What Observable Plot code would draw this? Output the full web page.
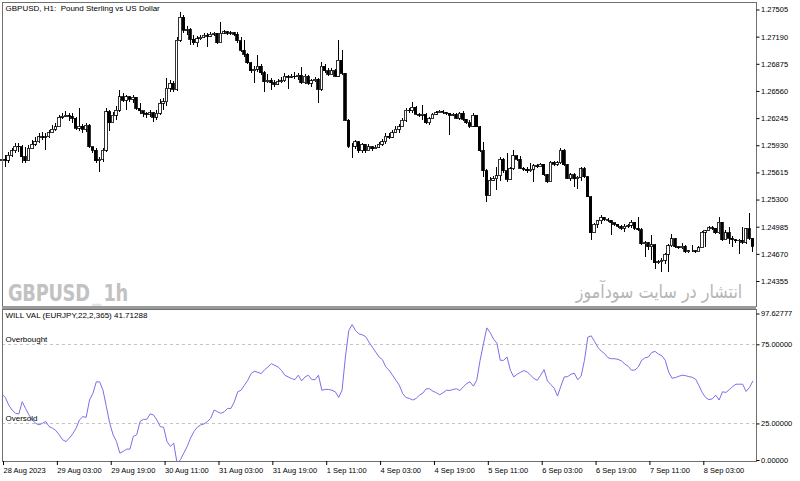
<!DOCTYPE html>
<html><head><meta charset="utf-8">
<script src="https://cdn.jsdelivr.net/npm/d3@7"></script>
<script src="https://cdn.jsdelivr.net/npm/@observablehq/plot@0.6"></script>
<style>
body{margin:0;background:#fff}
#wrap{position:relative;width:800px;height:481px;overflow:hidden;background:#fff}
#wrap svg{position:absolute;left:0;display:block}
.wm{position:absolute;white-space:nowrap;line-height:1}
</style></head><body>
<div id="wrap"></div>
<script>
// ---- data (hourly GBPUSD candles; open = previous close) ----
const firstOpen = 1.25750;
const closes = [
1.25765,1.25757,1.25815,1.25866,1.25920,1.25912,1.25796,1.25750,1.25893,1.25943,
1.25970,1.26028,1.26021,1.26028,1.26075,1.26113,1.26144,1.26253,1.26268,1.26280,
1.26268,1.26241,1.26125,1.26152,1.26113,1.26164,1.25912,1.25874,1.25750,1.25765,
1.25874,1.26319,1.26191,1.26280,1.26338,1.26493,1.26454,1.26493,1.26462,1.26485,
1.26357,1.26330,1.26299,1.26291,1.26307,1.26253,1.26299,1.26415,1.26435,1.26589,
1.26648,1.26578,1.27151,1.27414,1.27267,1.27274,1.27158,1.27120,1.27166,1.27182,
1.27209,1.27197,1.27220,1.27228,1.27120,1.27228,1.27247,1.27228,1.27236,1.27220,
1.27143,1.27035,1.26988,1.26887,1.26795,1.26810,1.26849,1.26771,1.26667,1.26686,
1.26655,1.26640,1.26667,1.26678,1.26733,1.26717,1.26733,1.26725,1.26740,1.26655,
1.26733,1.26648,1.26678,1.26694,1.26578,1.26849,1.26795,1.26756,1.26795,1.26733,
1.26919,1.26764,1.26222,1.25920,1.25920,1.25970,1.25866,1.25943,1.25866,1.25912,
1.25889,1.25904,1.25943,1.25970,1.26036,1.26021,1.26075,1.26113,1.26144,1.26222,
1.26338,1.26330,1.26369,1.26287,1.26276,1.26291,1.26191,1.26237,1.26291,1.26307,
1.26322,1.26314,1.26299,1.26280,1.26291,1.26245,1.26299,1.26229,1.26191,1.26152,
1.26276,1.26144,1.25866,1.25633,1.25351,1.25525,1.25544,1.25579,1.25765,1.25633,
1.25533,1.25657,1.25811,1.25765,1.25664,1.25649,1.25633,1.25649,1.25695,1.25680,
1.25711,1.25587,1.25509,1.25734,1.25711,1.25726,1.25873,1.25703,1.25548,1.25587,
1.25540,1.25556,1.25657,1.25564,1.25331,1.24914,1.25014,1.25053,1.25092,1.25068,
1.25061,1.25030,1.25014,1.24991,1.24968,1.24991,1.24999,1.25037,1.24968,1.24952,
1.24790,1.24797,1.24751,1.24774,1.24565,1.24581,1.24596,1.24666,1.24766,1.24844,
1.24751,1.24743,1.24759,1.24697,1.24705,1.24705,1.24697,1.24743,1.24921,1.24937,
1.24975,1.24968,1.24914,1.25037,1.24836,1.24914,1.24852,1.24836,1.24821,1.24828,
1.24805,1.24960,1.24852,1.24759];
const highs = [
1.25796,1.25815,1.25854,1.25893,1.25959,1.25951,1.25932,1.25912,1.25932,1.25990,
1.26021,1.26067,1.26086,1.26067,1.26106,1.26164,1.26183,1.26280,1.26307,1.26330,
1.26307,1.26299,1.26260,1.26357,1.26175,1.26191,1.26175,1.25912,1.25893,1.25796,
1.25893,1.26357,1.26338,1.26319,1.26384,1.26570,1.26531,1.26512,1.26500,1.26512,
1.26493,1.26415,1.26330,1.26319,1.26338,1.26319,1.26338,1.26462,1.26473,1.26706,
1.26686,1.26678,1.27189,1.27480,1.27441,1.27313,1.27286,1.27209,1.27197,1.27209,
1.27236,1.27228,1.27243,1.27247,1.27236,1.27363,1.27267,1.27255,1.27259,1.27247,
1.27247,1.27189,1.27151,1.26996,1.26899,1.26849,1.26976,1.26872,1.26795,1.26756,
1.26706,1.26686,1.26694,1.26717,1.26771,1.26744,1.26756,1.26783,1.26764,1.26841,
1.26756,1.26744,1.26702,1.26725,1.26706,1.26899,1.26872,1.26822,1.26822,1.26810,
1.27151,1.27035,1.26771,1.26230,1.25951,1.25990,1.25982,1.25959,1.25920,1.25943,
1.25920,1.25928,1.25970,1.25997,1.26075,1.26067,1.26106,1.26152,1.26175,1.26241,
1.26357,1.26357,1.26434,1.26384,1.26307,1.26396,1.26307,1.26253,1.26307,1.26330,
1.26338,1.26338,1.26318,1.26307,1.26307,1.26307,1.26314,1.26322,1.26229,1.26222,
1.26299,1.26284,1.26152,1.25970,1.25649,1.25564,1.25571,1.25680,1.25788,1.25780,
1.25835,1.25672,1.25873,1.25819,1.25804,1.25680,1.25672,1.25726,1.25711,1.25707,
1.25726,1.25718,1.25595,1.25749,1.25746,1.25746,1.25893,1.25881,1.25711,1.25610,
1.25610,1.25579,1.25672,1.25672,1.25571,1.25339,1.25030,1.25068,1.25115,1.25092,
1.25084,1.25068,1.25030,1.25014,1.24999,1.25014,1.25014,1.25061,1.25045,1.25099,
1.24968,1.24821,1.24805,1.24886,1.24790,1.24604,1.24627,1.24681,1.24790,1.24898,
1.24859,1.24766,1.24797,1.24774,1.24720,1.24770,1.24720,1.24759,1.24937,1.24952,
1.24991,1.24991,1.24975,1.25099,1.25045,1.24945,1.24983,1.24875,1.24844,1.24844,
1.24983,1.24975,1.25146,1.24859];
const lows = [
1.25719,1.25680,1.25719,1.25796,1.25835,1.25854,1.25726,1.25719,1.25757,1.25893,
1.25920,1.25959,1.25990,1.25874,1.26009,1.26067,1.26098,1.26137,1.26230,1.26253,
1.26214,1.26191,1.26106,1.26098,1.26075,1.26086,1.25893,1.25843,1.25719,1.25622,
1.25738,1.25854,1.26098,1.26202,1.26222,1.26319,1.26435,1.26338,1.26435,1.26415,
1.26338,1.26291,1.26260,1.26241,1.26260,1.26202,1.26222,1.26280,1.26338,1.26384,
1.26551,1.26551,1.26562,1.27131,1.27236,1.27209,1.27093,1.27093,1.27073,1.27151,
1.27170,1.27073,1.27189,1.27197,1.27104,1.27112,1.27220,1.27209,1.27209,1.27197,
1.27120,1.27015,1.26957,1.26872,1.26771,1.26648,1.26783,1.26744,1.26551,1.26648,
1.26570,1.26609,1.26628,1.26648,1.26667,1.26578,1.26706,1.26702,1.26686,1.26640,
1.26640,1.26624,1.26601,1.26663,1.26415,1.26562,1.26771,1.26733,1.26771,1.26717,
1.26717,1.26744,1.26214,1.25893,1.25777,1.25881,1.25843,1.25843,1.25835,1.25874,
1.25866,1.25881,1.25893,1.25920,1.25943,1.25997,1.26009,1.26067,1.26075,1.26144,
1.26202,1.26299,1.26299,1.26276,1.26253,1.26222,1.26175,1.26167,1.26229,1.26276,
1.26299,1.26291,1.26280,1.26047,1.26268,1.26229,1.26222,1.26214,1.26175,1.26125,
1.26144,1.26136,1.25850,1.25564,1.25273,1.25479,1.25517,1.25409,1.25517,1.25610,
1.25506,1.25533,1.25641,1.25749,1.25649,1.25633,1.25610,1.25618,1.25506,1.25664,
1.25672,1.25571,1.25494,1.25502,1.25695,1.25695,1.25711,1.25688,1.25533,1.25517,
1.25448,1.25428,1.25517,1.25548,1.25324,1.24828,1.24952,1.24975,1.25014,1.25053,
1.25037,1.24886,1.24995,1.24975,1.24952,1.24925,1.24975,1.24975,1.24952,1.24937,
1.24778,1.24635,1.24720,1.24596,1.24499,1.24550,1.24461,1.24550,1.24461,1.24751,
1.24739,1.24724,1.24728,1.24685,1.24685,1.24689,1.24681,1.24689,1.24743,1.24751,
1.24937,1.24952,1.24898,1.24906,1.24821,1.24859,1.24790,1.24751,1.24797,1.24674,
1.24790,1.24782,1.24836,1.24693];
// WILL VAL indicator, one value per bar
const willVal = [
43.8,41.7,36.9,33.8,31.7,31.3,39.0,34.8,30.7,27.5,
25.4,24.4,25.4,26.5,23.3,22.3,20.8,18.1,15.0,13.9,
16.0,18.7,22.3,27.5,29.6,29.2,40.1,44.3,51.6,51.6,
46.3,35.9,25.4,18.1,13.9,6.6,7.6,9.1,9.1,17.1,
18.1,26.5,27.9,27.9,31.3,30.7,27.5,23.3,22.9,13.9,
10.8,12.9,0.1,2.4,6.6,10.8,16.0,20.2,22.9,24.4,
25.0,26.5,28.6,33.8,32.7,31.7,32.7,34.8,34.8,39.0,
45.3,46.3,49.5,52.6,56.8,58.3,57.6,56.8,59.3,61.0,
63.1,62.0,61.0,58.9,55.8,54.7,53.7,53.0,55.8,52.2,
54.7,55.8,53.0,53.0,55.8,46.3,46.8,46.8,46.3,45.3,
41.7,46.3,67.3,84.0,87.8,84.0,81.9,81.3,80.2,76.7,
73.5,70.4,67.3,65.6,61.0,58.9,55.8,52.6,49.5,44.3,
41.7,41.1,40.1,41.1,43.2,44.5,47.2,47.2,45.7,44.7,
43.4,44.7,46.3,46.1,46.8,47.2,46.1,48.4,50.5,51.6,
48.9,52.6,65.2,75.6,85.7,82.7,78.6,76.0,65.2,65.2,
67.3,58.9,54.7,56.4,57.6,58.7,57.8,55.8,53.7,52.6,
55.8,59.3,52.2,49.9,47.6,42.6,48.9,54.7,54.9,56.4,
57.0,53.0,55.1,65.2,79.8,80.7,77.1,73.3,71.0,69.4,
66.8,66.2,66.2,65.8,64.8,62.9,61.4,58.9,59.1,61.0,
65.2,66.8,67.3,70.2,70.8,69.1,68.1,65.2,57.8,53.9,
54.3,55.1,55.8,55.5,54.9,54.5,53.3,49.3,44.7,41.7,
40.3,40.9,43.2,40.1,45.3,44.9,46.6,48.6,50.1,50.1,
50.1,45.5,48.0,52.0];
const priceTicks = [1.27505,1.27190,1.26875,1.26560,1.26245,1.25930,1.25615,1.25300,1.24985,1.24670,1.24355];
const levelVals = [75, 25];
const levelNames = ["Overbought", "Oversold"];
const indTop = 97.62777;
const tickBars = [0,16,32,48,64,80,96,112,128,144,160,176,192,208];
const timeLabels = ["28 Aug 2023","29 Aug 03:00","29 Aug 19:00","30 Aug 11:00","31 Aug 03:00","31 Aug 19:00","1 Sep 11:00","4 Sep 03:00","4 Sep 19:00","5 Sep 11:00","6 Sep 03:00","6 Sep 19:00","7 Sep 11:00","8 Sep 03:00"];
const chartTitle = "GBPUSD, H1:\u00a0 Pound Sterling vs US Dollar";
const indTitle = "WILL VAL (EURJPY,22,2,365) 41.71288";

// ---- build ----
const bars = closes.map((c, i) => ({i, o: i ? closes[i-1] : firstOpen, c, h: highs[i], l: lows[i]}));
const bull = bars.filter(d => d.c >= d.o), bear = bars.filter(d => d.c < d.o);
const levels = levelVals.map((v, k) => ({v, t: levelNames[k]}));
const font = "'Liberation Sans', Arial, sans-serif";
const xs = {domain: [0, 223], range: [1.5, 752.3]};
const wrap = document.getElementById("wrap");
const hw = 0.38;
const axisOpts = {anchor: "right", tickFormat: d => d.toFixed(5), tickSize: 3, tickPadding: 2, fontSize: 7.5, label: null};

const main = Plot.plot({
  width: 800, height: 307,
  marginTop: 2, marginBottom: 1, marginLeft: 2, marginRight: 44.5,
  style: {fontFamily: font, background: "transparent", color: "#000"},
  x: {...xs, axis: null, label: null},
  y: {domain: [1.24355, 1.27505], range: [281, 9.5], label: null},
  marks: [
    Plot.ruleX(bars, {x: "i", y1: "l", y2: "h", stroke: "#000", strokeWidth: 1, shapeRendering: "crispEdges"}),
    Plot.rect(bull, {x1: d => d.i - hw, x2: d => d.i + hw, y1: "o", y2: "c", fill: "#fff", stroke: "#000", strokeWidth: 0.8, shapeRendering: "crispEdges"}),
    Plot.rect(bear, {x1: d => d.i - hw, x2: d => d.i + hw, y1: "o", y2: "c", fill: "#000", stroke: "#000", strokeWidth: 0.8, shapeRendering: "crispEdges"}),
    Plot.frame({stroke: "#707070", shapeRendering: "crispEdges"}),
    Plot.axisY(priceTicks, axisOpts),
    Plot.text([chartTitle], {frameAnchor: "top-left", dx: 3, dy: 3, lineAnchor: "top", textAnchor: "start", fontSize: 8})
  ]
});
main.style.top = "0px";
wrap.appendChild(main);

const ind = Plot.plot({
  width: 800, height: 174,
  marginTop: 2, marginBottom: 20, marginLeft: 2, marginRight: 44.5,
  style: {fontFamily: font, background: "transparent", color: "#000"},
  x: {...xs, label: null},
  y: {domain: [0, indTop], range: [156, 1.5], label: null},
  marks: [
    Plot.ruleY(levels, {y: "v", stroke: "#c4c4c4", strokeDasharray: "3,3", shapeRendering: "crispEdges"}),
    Plot.line(willVal, {x: (d, i) => i, y: d => d, stroke: "#7b6fe8", strokeWidth: 1, clip: "frame"}),
    Plot.frame({stroke: "#707070", shapeRendering: "crispEdges"}),
    Plot.axisY(levelVals, axisOpts),
    Plot.axisY([indTop], {...axisOpts, dy: 5}),
    Plot.axisY([0], {...axisOpts, dy: -3}),
    Plot.axisX(tickBars, {anchor: "bottom", tickFormat: d => timeLabels[tickBars.indexOf(d)], textAnchor: "start", dx: 1.5, tickSize: 4, tickPadding: 2, fontSize: 7.5, label: null}),
    Plot.text([indTitle], {frameAnchor: "top-left", dx: 3, dy: 3, lineAnchor: "top", textAnchor: "start", fontSize: 8}),
    Plot.text(levels, {y: "v", text: "t", frameAnchor: "left", dx: 3, dy: -5, textAnchor: "start", fontSize: 8})
  ]
});
ind.style.top = "307px";
wrap.appendChild(ind);

// separator between panels
const sep = document.createElement("div");
sep.style.cssText = "position:absolute;left:2px;top:306px;width:754px;height:3px;background:#9a9a9a";
wrap.appendChild(sep);

// watermarks
const wm1 = document.createElement("div");
wm1.className = "wm";
wm1.style.cssText += "left:8px;top:280px;font:bold 23px 'DejaVu Sans Condensed','Liberation Sans Narrow',sans-serif;font-stretch:condensed;color:#c2c2c2;transform:scaleX(0.86);transform-origin:0 0;letter-spacing:-0.3px";
wm1.innerHTML = 'GBPUSD<span style="color:#e4e4e4;margin:0 3px">_</span>1h';
wrap.appendChild(wm1);
const wm2 = document.createElement("div");
wm2.className = "wm";
wm2.dir = "rtl";
wm2.style.cssText += "right:58px;top:280px;font:19px 'DejaVu Sans',sans-serif;color:#b6b6b6;transform:scaleX(0.84);transform-origin:100% 0";
wm2.textContent = "انتشار در سایت سودآموز";
wrap.appendChild(wm2);
</script>
</body></html>
